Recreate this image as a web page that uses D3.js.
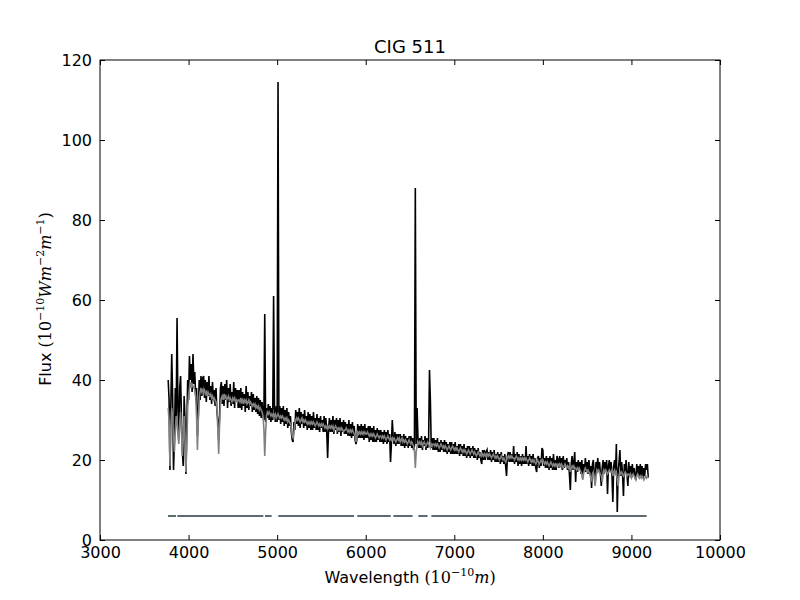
<!DOCTYPE html>
<html>
<head>
<meta charset="utf-8">
<script src="https://cdn.jsdelivr.net/npm/d3@7"></script>
<style>
body { margin: 0; background: #fff; }
svg { display: block; font-family: "DejaVu Sans", sans-serif; }
</style>
</head>
<body>
<svg width="800" height="600"></svg>
<script>
/*
Data
*/
// spectrum is sampled every 10 A starting at 3770 A (one row = 200 A)
var waveStart = 3770;
var waveStep = 10;

// observed flux (black)
var fluxObs = [
    40, 35, 17.5, 34, 46.5, 36, 17.5, 25, 38, 30, 55.5, 33, 26, 38, 41, 30, 22, 18.5, 36, 30,
    16.5, 28, 40, 35, 46, 40, 44, 37, 46.5, 39, 42, 36, 38, 26, 31, 40, 35, 41, 36, 40.5,
    41, 35.5, 40, 34.5, 39.5, 36, 41, 35, 38.5, 34, 39.5, 35, 37.5, 33.5, 38, 32, 30, 25, 31, 38,
    39.5, 34, 38.5, 33.5, 39, 35, 40, 33, 38, 34.5, 39, 33.5, 37, 34, 39.5, 33, 38, 34.5, 37.5, 33,
    37.5, 33, 38, 32.5, 37, 33.5, 36.5, 32, 38.5, 33, 37, 32.5, 36, 33.5, 37, 32, 36.5, 32.5, 35.5, 32,
    36, 31.5, 35.5, 31, 35, 30.5, 34.5, 31, 30, 56.5, 29.5, 33, 30.5, 34, 30, 33.5, 29.5, 33, 30, 61,
    33, 29.5, 33.5, 29.5, 114.5, 30, 33.5, 29, 33, 29.5, 33.5, 28.5, 32.5, 29, 33, 28, 32, 28.5, 31, 27,
    25, 24.5, 29.5, 27.5, 32.5, 29, 32, 28.5, 33, 28, 32, 29, 31.5, 28, 32.5, 28.5, 31, 27.5, 32, 28,
    31.5, 27.5, 31, 27.5, 32, 28, 30.5, 27.5, 31.5, 27.5, 30.5, 27, 31, 28, 30, 27, 31, 27, 30.5, 27,
    20.5, 27.5, 30.5, 27, 30, 27, 31, 26.5, 30, 27.5, 30.5, 26.5, 30, 27, 30.5, 26, 29.5, 27, 30, 26.5,
    29.5, 26.5, 29, 26, 30, 26, 29, 25.5, 29.5, 26, 28.5, 25, 24, 25, 29, 25.5, 28.5, 25.5, 29, 25.5,
    28.5, 25, 29, 25.5, 28, 25.5, 28.5, 24.5, 28.5, 25, 28, 24.5, 28.5, 24.5, 27.5, 24.5, 28, 25, 27.5, 24.5,
    27.5, 24.5, 27, 24, 27.5, 24.5, 27, 24, 27.5, 24.5, 26.5, 19.5, 24, 30, 26, 24, 27, 23.5, 26.5, 24,
    26.5, 24, 26.5, 23.5, 26, 23.5, 26.5, 23, 26, 23.5, 25.5, 23, 26, 23.5, 26, 23, 25.5, 22.5, 23.5, 88,
    24, 33, 25.5, 23, 25.5, 23, 26, 22.5, 25, 23.5, 26, 22.5, 25.5, 23, 24.5, 42.5, 35, 23, 25.5, 22.5,
    25.5, 22.5, 25, 22.5, 25.5, 22, 24.5, 22, 25, 22.5, 24.5, 22, 25, 22, 24.5, 21.5, 24, 22, 24.5, 21.5,
    24.5, 21.5, 24, 21.5, 24.5, 21.5, 23.5, 21.5, 24, 21, 24, 21.5, 23.5, 21, 24, 21, 23, 20.5, 23.5, 21,
    23.5, 20.5, 23, 21, 23.5, 20.5, 23, 20.5, 22.5, 20, 23, 20.5, 22, 20, 19, 22.5, 20, 22.5, 20, 22,
    22.5, 20, 22, 20, 22.5, 19.5, 22, 20, 22.5, 19.5, 21.5, 19.5, 22, 19.5, 21.5, 19, 22, 19.5, 21, 19,
    21.5, 18.5, 16, 21, 22, 19.5, 22, 19.5, 21.5, 19.5, 23.5, 19, 21.5, 19.5, 22, 18.5, 21.5, 19, 21, 18.5,
    21.5, 19, 21, 19, 23.5, 19, 21, 18.5, 21.5, 19, 21, 18.5, 21.5, 18.5, 20.5, 18, 17, 20.5, 21, 18,
    20.5, 18.5, 23, 22.5, 18.5, 20.5, 18, 21, 18, 20.5, 17.5, 21, 18, 20.5, 17.5, 21.5, 17.5, 20, 17.5, 21,
    20, 18, 21, 18.5, 20.5, 17.5, 21, 18, 20, 18.5, 20.5, 17.5, 19.5, 16.5, 12.5, 19, 21, 17.5, 19.5, 22,
    14.5, 19.5, 17, 20, 17.5, 19.5, 16.5, 20, 15.5, 19, 17, 20.5, 17, 19.5, 16.5, 20, 17, 18.5, 13, 19,
    20, 16.5, 14, 19.5, 17.5, 20.5, 17, 19.5, 16.5, 13.5, 18, 20, 16.5, 19.5, 17, 20, 11.5, 18.5, 20, 17,
    19.5, 16.5, 9.5, 18.5, 20, 16.5, 24, 7, 17, 19.5, 22.5, 16, 19.5, 16.5, 11, 19, 17, 20, 16.5, 13.5,
    19.5, 16, 18.5, 15.5, 19, 16.5, 18, 16, 15, 19, 16.5, 18.5, 15.5, 19, 16, 18.5, 15.5, 18, 16, 19,
    17.5, 19, 15.5
];

// fitted model (grey)
var fluxModel = [
    33, 30, 18.5, 28, 33, 31, 26, 22, 27, 31, 30, 26, 24, 29, 32, 27, 21, 25, 31, 26,
    17, 24, 33, 36, 38, 39.5, 38, 39, 38.5, 38, 37.5, 36, 31, 22.5, 30, 35.5, 37, 38, 37, 37.5,
    37, 37.5, 36.5, 37, 36, 37, 36.5, 36, 36.5, 35.5, 36, 35, 35.5, 35, 34.5, 33, 28, 21.5, 29, 34,
    35.5, 36, 35, 36.5, 35.5, 36, 35, 35.5, 36, 35, 35.5, 35, 34.5, 35.5, 35, 35.5, 34.5, 35, 34.5, 35,
    35, 34.5, 35.5, 34.5, 35, 34, 35, 34.5, 35, 34, 34.5, 35, 34, 34.5, 34, 33.5, 34, 33.5, 34, 33,
    33.5, 33, 33.5, 32.5, 33, 32.5, 32, 31, 28, 21, 27, 31, 32, 31.5, 32, 31.5, 31, 31.5, 31, 31.5,
    31, 31.5, 30.5, 31, 31.5, 31, 30.5, 31, 30.5, 31, 30.5, 30, 30.5, 30, 30.5, 29.5, 30, 29.5, 29, 28,
    26, 25.5, 27, 29, 30, 30.5, 30, 30.5, 30, 29.5, 30, 30.5, 29.5, 30, 29.5, 30, 29.5, 29, 29.5, 29,
    29.5, 29, 29.5, 29, 29.5, 29, 28.5, 29, 29.5, 29, 28.5, 29, 28.5, 29, 28.5, 29, 28.5, 28, 28.5, 28,
    28.5, 28, 28.5, 28, 28.5, 28, 28.5, 27.5, 28, 28.5, 28, 27.5, 28, 27.5, 28, 27.5, 28, 27.5, 27, 27.5,
    27.5, 28, 27.5, 27, 27.5, 27, 27.5, 27, 27.5, 27, 26.5, 26, 24.5, 25.5, 27, 26.5, 27, 26.5, 27, 26.5,
    27, 26.5, 27, 26.5, 26.5, 27, 26.5, 26, 26.5, 26, 26.5, 26, 26.5, 26, 25.5, 26, 26.5, 26, 25.5, 26,
    26, 25.5, 26, 25.5, 26, 25.5, 25, 25.5, 26, 25.5, 25, 25.5, 25, 25.5, 25, 25.5, 25, 24.5, 25, 25.5,
    25, 25.5, 24.5, 25, 25.5, 24.5, 25, 24.5, 25, 24.5, 24, 24.5, 25, 24.5, 24, 24.5, 24, 23.5, 22.5, 18,
    22, 23.5, 24.5, 24, 24.5, 24, 24.5, 23.5, 24, 24.5, 24, 23.5, 24, 24.5, 24, 23.5, 23, 24, 23.5, 24,
    24, 23.5, 24, 23.5, 24, 23.5, 23, 23.5, 24, 23.5, 23, 23.5, 23, 23.5, 23, 22.5, 23, 23.5, 23, 22.5,
    23, 23.5, 23, 22.5, 23, 22.5, 23, 22.5, 22, 22.5, 23, 22.5, 22, 22.5, 22, 22.5, 22, 21.5, 22, 22.5,
    22, 21.5, 22, 22.5, 22, 21.5, 22, 21.5, 21, 21.5, 22, 21.5, 21, 21.5, 21, 21.5, 21, 21.5, 21, 21.5,
    21, 21.5, 21, 21.5, 21, 20.5, 21, 21.5, 21, 20.5, 21, 20.5, 21, 20.5, 20, 20.5, 21, 20.5, 20, 20.5,
    20, 19.5, 20, 20.5, 21, 20.5, 21, 20.5, 21, 20.5, 20.5, 20, 20.5, 21, 20.5, 20, 20.5, 20, 20.5, 20,
    20.5, 20, 20.5, 20, 20.5, 20, 19.5, 20, 20.5, 20, 19.5, 20, 19.5, 20, 19.5, 19, 19.5, 20, 19.5, 19,
    19.5, 20, 19.5, 20, 19.5, 19, 19.5, 19, 19.5, 19, 18.5, 19, 19.5, 19, 18.5, 19, 18.5, 19, 18.5, 19,
    19, 18.5, 19, 18.5, 19, 18.5, 18, 18.5, 19, 18.5, 18, 18.5, 18, 18.5, 17, 18, 18.5, 18, 18.5, 18,
    18, 17.5, 18, 17.5, 18, 17.5, 17, 16.5, 15, 16.5, 17.5, 18, 17.5, 17, 17.5, 17, 16.5, 15.5, 15, 16.5,
    17, 16, 13.5, 16, 17.5, 17, 17.5, 17, 16.5, 16, 14.5, 16.5, 17.5, 17, 17.5, 17, 16.5, 17, 17.5, 17,
    17, 17.5, 16, 17, 17.5, 16.5, 17, 15, 13.5, 16, 17, 16.5, 17, 16.5, 16, 16.5, 17, 16.5, 16, 16.5,
    16.5, 16, 16.5, 15.5, 16, 16.5, 16, 15.5, 15, 16, 16.5, 16, 15.5, 16, 15.5, 16, 15.5, 15, 15.5, 16,
    15.5, 16, 15.5
];

// good-pixel mask segments, drawn at a constant level
var maskStart = [3768, 3873, 4863, 5013, 5905, 6312, 6594, 6741];
var maskEnd = [3858, 4844, 4938, 5868, 6282, 6529, 6698, 9172];
var maskLevel = 6;

var xTicks = [3000, 4000, 5000, 6000, 7000, 8000, 9000, 10000];
var yTicks = [0, 20, 40, 60, 80, 100, 120];

/*
Layout
*/
var svg = d3.select("svg");
var margin = { left: 100, right: 80, top: 60, bottom: 60 };
var width = 800, height = 600;

var x = d3.scaleLinear().domain([3000, 10000]).range([margin.left, width - margin.right]);
var y = d3.scaleLinear().domain([0, 120]).range([height - margin.bottom, margin.top]);

var obs = fluxObs.map(function (f, i) { return { w: waveStart + i * waveStep, f: f }; });
var model = fluxModel.map(function (f, i) { return { w: waveStart + i * waveStep, f: f }; });

var line = d3.line()
    .x(function (d) { return x(d.w); })
    .y(function (d) { return y(d.f); });

// spectra: observed first, model on top
svg.append("path")
    .datum(obs)
    .attr("fill", "none")
    .attr("stroke", "#000")
    .attr("stroke-width", 1.6)
    .attr("d", line);

svg.append("path")
    .datum(model)
    .attr("fill", "none")
    .attr("stroke", "#808080")
    .attr("stroke-width", 1.6)
    .attr("d", line);

// mask
svg.append("g").selectAll("line")
    .data(maskStart)
    .join("line")
    .attr("x1", function (d) { return x(d); })
    .attr("x2", function (d, i) { return x(maskEnd[i]); })
    .attr("y1", y(maskLevel))
    .attr("y2", y(maskLevel))
    .attr("stroke", "#5f6b70")
    .attr("stroke-width", 2);

/*
Axes (inward ticks on all four sides)
*/
function styleAxis(g) {
    g.select(".domain").remove();
    g.selectAll(".tick line").attr("stroke", "#000");
    g.selectAll(".tick text")
        .attr("fill", "#000")
        .style("font-family", "'DejaVu Sans', sans-serif")
        .style("font-size", "16px");
}

var fmt = d3.format("d");

svg.append("g")
    .attr("transform", "translate(0," + y(0) + ")")
    .call(d3.axisBottom(x).tickValues(xTicks).tickFormat(fmt).tickSize(-5).tickPadding(7))
    .call(styleAxis);

svg.append("g")
    .attr("transform", "translate(0," + y(120) + ")")
    .call(d3.axisTop(x).tickValues(xTicks).tickSize(-5).tickFormat(""))
    .call(styleAxis);

svg.append("g")
    .attr("transform", "translate(" + x(3000) + ",0)")
    .call(d3.axisLeft(y).tickValues(yTicks).tickFormat(fmt).tickSize(-5).tickPadding(8))
    .call(styleAxis);

svg.append("g")
    .attr("transform", "translate(" + x(10000) + ",0)")
    .call(d3.axisRight(y).tickValues(yTicks).tickSize(-5).tickFormat(""))
    .call(styleAxis);

svg.append("rect")
    .attr("x", x(3000))
    .attr("y", y(120))
    .attr("width", x(10000) - x(3000))
    .attr("height", y(0) - y(120))
    .attr("fill", "none")
    .attr("stroke", "#000")
    .attr("stroke-width", 1);

/*
Labels
*/
svg.append("text")
    .attr("x", (x(3000) + x(10000)) / 2)
    .attr("y", 53)
    .attr("text-anchor", "middle")
    .style("font-size", "18px")
    .text("CIG 511");

// mathtext-like label: parts = [text, style, superscript?]
function mathLabel(el, parts) {
    var sup = false;
    parts.forEach(function (p) {
        var t = el.append("tspan").text(p[0]);
        if (p[1] === "sans") {
            t.style("font-family", "'DejaVu Sans', sans-serif");
        } else {
            t.style("font-family", "'DejaVu Serif', serif");
            if (p[1] === "it") t.style("font-style", "italic");
        }
        if (p[2] && !sup) { t.attr("dy", -7).style("font-size", "11px"); sup = true; }
        else if (p[2]) { t.style("font-size", "11px"); }
        else if (sup) { t.attr("dy", 7); sup = false; }
    });
}

var xl = svg.append("text")
    .attr("x", (x(3000) + x(10000)) / 2)
    .attr("y", 583)
    .attr("text-anchor", "middle")
    .style("font-size", "16px");
mathLabel(xl, [["Wavelength ", "sans"], ["(10", "rm"], ["\u221210", "rm", true], ["m", "it"], [")", "rm"]]);

var yl = svg.append("text")
    .attr("transform", "translate(51,299) rotate(-90)")
    .attr("text-anchor", "middle")
    .style("font-size", "16px");
mathLabel(yl, [["Flux ", "sans"], ["(10", "rm"], ["\u221210", "rm", true], ["Wm", "it"], ["\u22122", "rm", true],
    ["m", "it"], ["\u22121", "rm", true], [")", "rm"]]);
</script>
</body>
</html>
